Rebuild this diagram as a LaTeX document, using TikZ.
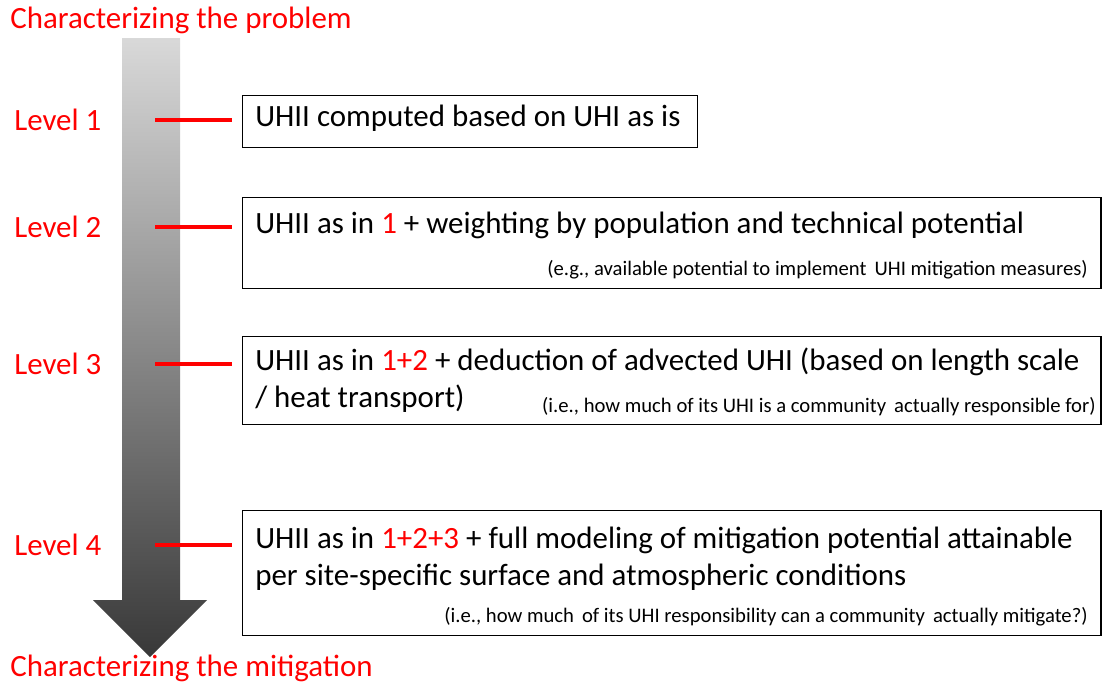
\documentclass[tikz,border=0pt]{standalone}
\usepackage{fontspec}
\setmainfont{Carlito}
\usetikzlibrary{positioning}
\tikzset{
  box/.style={draw, line width=0.9pt, anchor=north west, inner sep=0pt},
  lvl/.style={text=red, anchor=west, inner sep=0pt, font=\fontsize{22}{26}\selectfont},
  main/.style={anchor=west, align=left, inner sep=0pt, font=\fontsize{22}{26.3}\selectfont},
  note/.style={anchor=east, inner sep=0pt, font=\fontsize{14.7}{17}\selectfont},
  tick/.style={red, line width=2.3pt, shorten >=0.25cm}
}

\begin{document}
\begin{tikzpicture}[x=0.025cm, y=-0.025cm]
\useasboundingbox (0,0) rectangle (1102,684);

% the big arrow
\shade[top color=black!15, bottom color=black!78]
  (122,38) -- (180,38) -- (180,600) -- (207,600) -- (150,657) -- (93,600) -- (122,600) -- cycle;

\node (top) at (10,20) [lvl] {Characterizing the problem};
\node (bot) at (10,668) [lvl] {Characterizing the mitigation};

% boxes
\node (b1) at (242,95) [box, minimum width=11.375cm, minimum height=1.3cm] {};
\node (b2) at (242,197) [box, minimum width=21.45cm, minimum height=2.275cm] {};
\node (b3) at (242,336) [box, minimum width=21.45cm, minimum height=2.2cm] {};
\node (b4) at (242,510) [box, minimum width=21.45cm, minimum height=3.125cm] {};

\node (m1) at (255,118) [main] {UHII computed based on UHI as is};
\node (m2) at (255,225) [main] {UHII as in {\color{red}1} + weighting by population and technical potential};
\node (n2) at (1088,270) [note] {(e.g., available potential to implement\, UHI mitigation measures)};
\node (m3) at (255,380) [main] {UHII as in {\color{red}1+2} + deduction of advected UHI (based on length scale\\/ heat transport)};
\node (n3) at (1096,407) [note] {(i.e., how much of its UHI is a community\, actually responsible for)};
\node (m4) at (255,559) [main] {UHII as in {\color{red}1+2+3} + full modeling of mitigation potential attainable\\per site-specific surface and atmospheric conditions};
\node (n4) at (1088,617) [note] {(i.e., how much\, of its UHI responsibility can a community\, actually mitigate?)};

% levels
\foreach \n/\y in {1/120, 2/227, 3/364, 4/545} {
\node (l\n) at (14,\y) [lvl] {Level \n};
\coordinate (t\n) at (155,\y);
\draw[tick] (t\n) -- (t\n -| b\n.west);
}

\end{tikzpicture}
\end{document}
